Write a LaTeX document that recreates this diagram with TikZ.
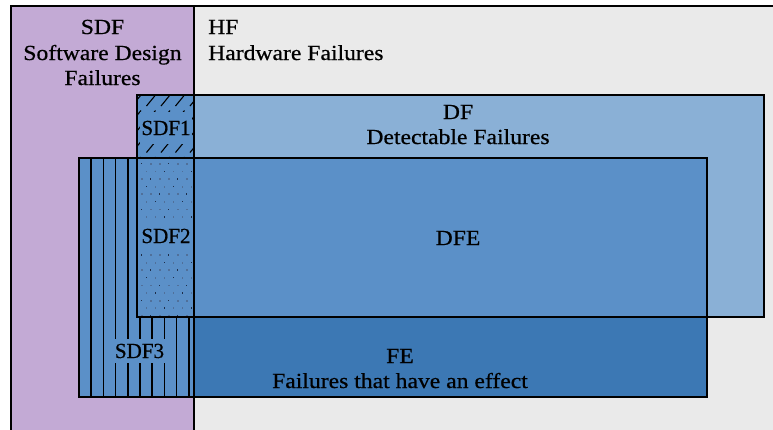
\documentclass[tikz,border=0pt]{standalone}
\usepackage{fontspec}
\setmainfont{Liberation Serif}[FakeStretch=1.1, FakeBold=0.6]
\newfontfamily\tagfont{Liberation Serif}[FakeStretch=0.98, FakeBold=0.6]
\definecolor{sdfpurple}{HTML}{C3AAD5}
\definecolor{hfgrey}{HTML}{EAEAEA}
\definecolor{dfblue}{HTML}{8AB0D6}
\definecolor{midblue}{HTML}{5B90C8}
\definecolor{feblue}{HTML}{3C78B4}
\definecolor{dotdark}{HTML}{1E2E4A}
\definecolor{dotgrey}{HTML}{50709A}
\begin{document}
\begin{tikzpicture}[x=1pt,y=-1pt,
  region/.style={draw=black, line width=1.7pt, inner sep=0pt, outer sep=0pt, anchor=north west},
  frame/.style={region, line width=1.4pt},
  lbl/.style={font=\fontsize{21.5}{25.5}\selectfont, inner sep=0pt, anchor=base},
  tag/.style={lbl, font=\tagfont\fontsize{21.5}{25.5}\selectfont, fill=midblue, inner xsep=1pt, inner ysep=6pt},
  stripe/.style={line width=1.5pt, black},
  slash/.style={line width=1.1pt, black, line cap=butt}]
\useasboundingbox (0,0) rectangle (773,429);
\clip (0,0) rectangle (773,429);

% universe: hardware failures, with the software design column on the left
\node[frame, fill=hfgrey, minimum width=790pt, minimum height=450pt] (hf) at (11,6) {};
\node[frame, fill=sdfpurple, minimum width=183pt, minimum height=450pt] (sdf) at (11,6) {};

% detectable failures
\node[region, fill=dfblue, minimum width=627pt, minimum height=222pt] (df) at (137,95) {};

% software design failures with an effect (striped)
\node[region, fill=midblue, minimum width=115pt, minimum height=239pt] (sdfthree) at (79,158) {};
\foreach \k in {1,...,4}
  \draw[stripe] (79+12.2*\k,158) -- (79+12.2*\k,397);
\foreach \k in {5,...,9}
  \draw[stripe] (79+12.2*\k,317) -- (79+12.2*\k,397);

% failures with an effect, detectable and not
\node[region, fill=midblue, minimum width=513pt, minimum height=159pt] (dfe) at (194,158) {};
\node[region, fill=feblue, minimum width=513pt, minimum height=80pt] (fe) at (194,317) {};

% SDF1: hatched
\node[region, fill=midblue, minimum width=57pt, minimum height=63pt] (sdfone) at (137,95) {};
\begin{scope}
  \clip (sdfone.north west) rectangle (sdfone.south east);
  \foreach \r in {0,...,4}
    \foreach \c in {0,...,4}
      \draw[slash] (132+14.5*\c,106+15.5*\r) -- (141+14.5*\c,95+15.5*\r);
\end{scope}
\draw[region] (sdfone.north west) rectangle (sdfone.south east);

% SDF2: dotted
\node[region, fill=midblue, minimum width=57pt, minimum height=159pt] (sdftwo) at (137,158) {};
\begin{scope}
  \clip (sdftwo.north west) rectangle (sdftwo.south east);
  \foreach \j in {0,...,20} {
    \pgfmathsetmacro{\off}{mod(\j,2)*4.5}
    \foreach \i in {0,...,6} {
      \pgfmathsetmacro{\shade}{mod(\i+\j,3)==0 ? 1 : 0}
      \ifdim\shade pt>0.5pt
        \fill[dotdark] (141+9*\i+\off,163+7.6*\j) rectangle ++(1.3,1.3);
      \else
        \fill[dotgrey] (141+9*\i+\off,163+7.6*\j) rectangle ++(1.8,1.8);
      \fi
    }
  }
\end{scope}
\draw[region] (sdftwo.north west) rectangle (sdftwo.south east);
\draw[region] (sdfthree.north west) -- (dfe.north east);

% labels
\node[lbl] (sdfname) at (102.5,34) {SDF};
\node[lbl] (sdfnameb) at (102.5,60) {Software Design};
\node[lbl] (sdfnamec) at (102.5,85) {Failures};
\node[lbl, anchor=base west] (hfname) at (208,34) {HF};
\node[lbl, anchor=base west] (hfnameb) at (208,60) {Hardware Failures};
\node[lbl] (dfname) at (458,119) {DF};
\node[lbl] (dfnameb) at (458,144) {Detectable Failures};
\node[lbl] (dfename) at (458,245) {DFE};
\node[lbl] (fename) at (400,363) {FE};
\node[lbl] (fenameb) at (400,388) {Failures that have an effect};
\node[tag, inner ysep=9pt] (sdfonename) at (166,135) {SDF1};
\node[tag, inner ysep=8pt] (sdftwoname) at (166,243) {SDF2};
\node[tag, inner ysep=5pt] (sdfthreename) at (139.5,358) {SDF3};
\end{tikzpicture}
\end{document}
